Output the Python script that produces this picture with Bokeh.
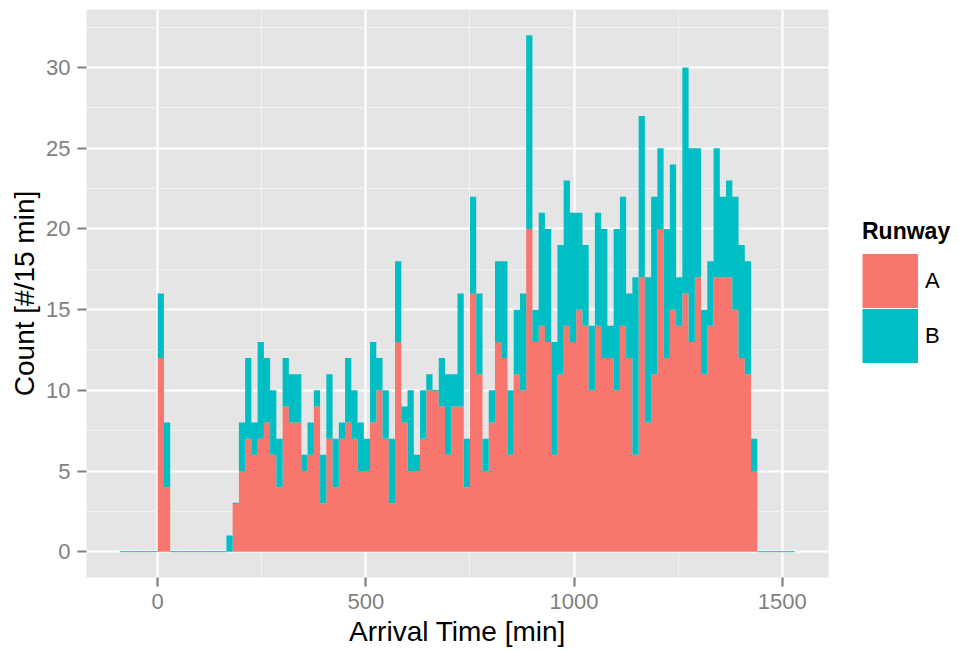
from bokeh.plotting import figure
from bokeh.models import ColumnDataSource, FixedTicker, Legend, LegendItem, Range1d
from bokeh.embed import file_html
from bokeh.resources import INLINE

# ---- data: stacked histogram, 15-minute bins starting at -90 min ----
bin_width = 15
first_edge = -90

runway_a = [0, 0, 0, 0, 0, 0,
            12, 4, 0, 0, 0, 0, 0, 0, 0, 0, 0, 0, 3, 5, 7, 6, 7, 8, 6, 4, 9, 8, 8, 5, 6, 9, 3, 7, 4, 7,
            8, 7, 5, 5, 8, 10, 7, 3, 13, 8, 5, 5, 7, 10, 10, 9, 6, 9, 9, 4, 16, 11, 5, 8, 13, 12, 6, 11,
            10, 20, 13, 14, 13, 6, 11, 14, 13, 15, 14, 10, 14, 12, 12, 10, 14, 12, 6, 17, 8, 11, 20, 12,
            15, 14, 16, 13, 17, 11, 14, 17, 17, 17, 15, 12, 11, 5,
            0, 0, 0, 0, 0, 0]
runway_b = [0, 0, 0, 0, 0, 0,
            4, 4, 0, 0, 0, 0, 0, 0, 0, 0, 0, 1, 0, 3, 5, 2, 6, 4, 4, 3, 3, 3, 3, 1, 2, 1, 3, 4, 3, 1,
            4, 3, 3, 2, 5, 2, 3, 4, 5, 1, 5, 1, 3, 1, 0, 3, 5, 2, 7, 3, 6, 5, 2, 2, 5, 6, 4, 4,
            6, 12, 2, 7, 7, 7, 8, 9, 8, 6, 5, 4, 7, 8, 2, 10, 8, 4, 11, 10, 9, 11, 5, 8,
            9, 3, 14, 12, 8, 4, 4, 8, 5, 6, 7, 7, 7, 2,
            0, 0, 0, 0, 0, 0]

runway_labels = ["A", "B"]
runway_colors = ["#F8766D", "#00BFC4"]

x_ticks = [0, 500, 1000, 1500]
x_minor = [-250, 250, 750, 1250]
y_ticks = [0, 5, 10, 15, 20, 25, 30]
y_minor = [2.5, 7.5, 12.5, 17.5, 22.5, 27.5, 32.5]

# ---- build tables ----
left = [first_edge + i * bin_width for i in range(len(runway_a))]
right = [l + bin_width for l in left]
top_a = list(runway_a)
top_b = [a + b for a, b in zip(runway_a, runway_b)]
zero_b_alpha = [1.0 if b == 0 else 0.0 for b in runway_b]

# step areas (one polygon per runway -> no seams between adjacent bars)
edges = left + [right[-1]]
step_src = ColumnDataSource(dict(
    x=edges,
    zero=[0] * len(edges),
    top_a=top_a + [top_a[-1]],
    top_b=top_b + [top_b[-1]],
))
# zero-height B bars show as a thin line (as in the original)
seg_src = ColumnDataSource(dict(left=left, right=right, top_a=top_a, alpha=zero_b_alpha))

FONT = "Liberation Sans"
GREY = "#7F7F7F"

p = figure(frame_width=742, frame_height=568,
           min_border_left=86, min_border_right=131,
           min_border_top=9, min_border_bottom=75,
           x_range=Range1d(-171, 1611), y_range=Range1d(-1.6, 33.6),
           output_backend="svg", toolbar_location=None)

p.background_fill_color = "#E5E5E5"
p.border_fill_color = "white"
p.outline_line_color = None

p.varea_step(x="x", y1="zero", y2="top_a", step_mode="after", source=step_src,
             fill_color=runway_colors[0])
p.varea_step(x="x", y1="top_a", y2="top_b", step_mode="after", source=step_src,
             fill_color=runway_colors[1])
p.segment(x0="left", y0="top_a", x1="right", y1="top_a", source=seg_src,
          line_color=runway_colors[1], line_width=1, line_alpha="alpha")

# legend key renderers (NaN data: nothing drawn in the plot, solid boxes in the legend)
nan = float("nan")
key_a = p.line(x=[nan, nan], y=[nan, nan], line_color=runway_colors[0],
               line_width=54, line_cap="butt")
key_b = p.line(x=[nan, nan], y=[nan, nan], line_color=runway_colors[1],
               line_width=54, line_cap="butt")

# grids
p.xgrid.ticker = FixedTicker(ticks=x_ticks, minor_ticks=x_minor)
p.ygrid.ticker = FixedTicker(ticks=y_ticks, minor_ticks=y_minor)
for g in (p.xgrid, p.ygrid):
    g.grid_line_color = "white"
    g.grid_line_width = 2.2
    g.minor_grid_line_color = "#F2F2F2"
    g.minor_grid_line_width = 1

# axes
p.xaxis.ticker = FixedTicker(ticks=x_ticks)
p.yaxis.ticker = FixedTicker(ticks=y_ticks)
p.xaxis.axis_label = "Arrival Time [min]"
p.yaxis.axis_label = "Count [#/15 min]"
for ax in (p.xaxis, p.yaxis):
    ax.axis_line_color = None
    ax.major_tick_line_color = GREY
    ax.major_tick_line_width = 2.2
    ax.major_tick_out = 9
    ax.major_tick_in = 0
    ax.minor_tick_out = 0
    ax.minor_tick_in = 0
    ax.major_label_text_font = FONT
    ax.major_label_text_font_size = "22px"
    ax.major_label_text_color = GREY
    ax.major_label_standoff = 7
    ax.axis_label_text_font = FONT
    ax.axis_label_text_font_size = "28px"
    ax.axis_label_text_font_style = "normal"
    ax.axis_label_text_color = "black"
p.xaxis.axis_label_standoff = 4
p.yaxis.axis_label_standoff = 3

# legend
legend = Legend(items=[LegendItem(label=runway_labels[0], renderers=[key_a]),
                       LegendItem(label=runway_labels[1], renderers=[key_b])],
                title="Runway",
                location=(34, 214),
                glyph_width=56, glyph_height=55, spacing=0,
                label_standoff=7, padding=0, margin=0,
                border_line_color=None, background_fill_alpha=0,
                label_text_font=FONT, label_text_font_size="22px",
                label_text_color="black",
                title_text_font=FONT, title_text_font_size="23px",
                title_text_font_style="bold", title_text_color="black",
                title_standoff=8)
p.add_layout(legend, "right")

open("out.html", "w").write(file_html(p, INLINE))
